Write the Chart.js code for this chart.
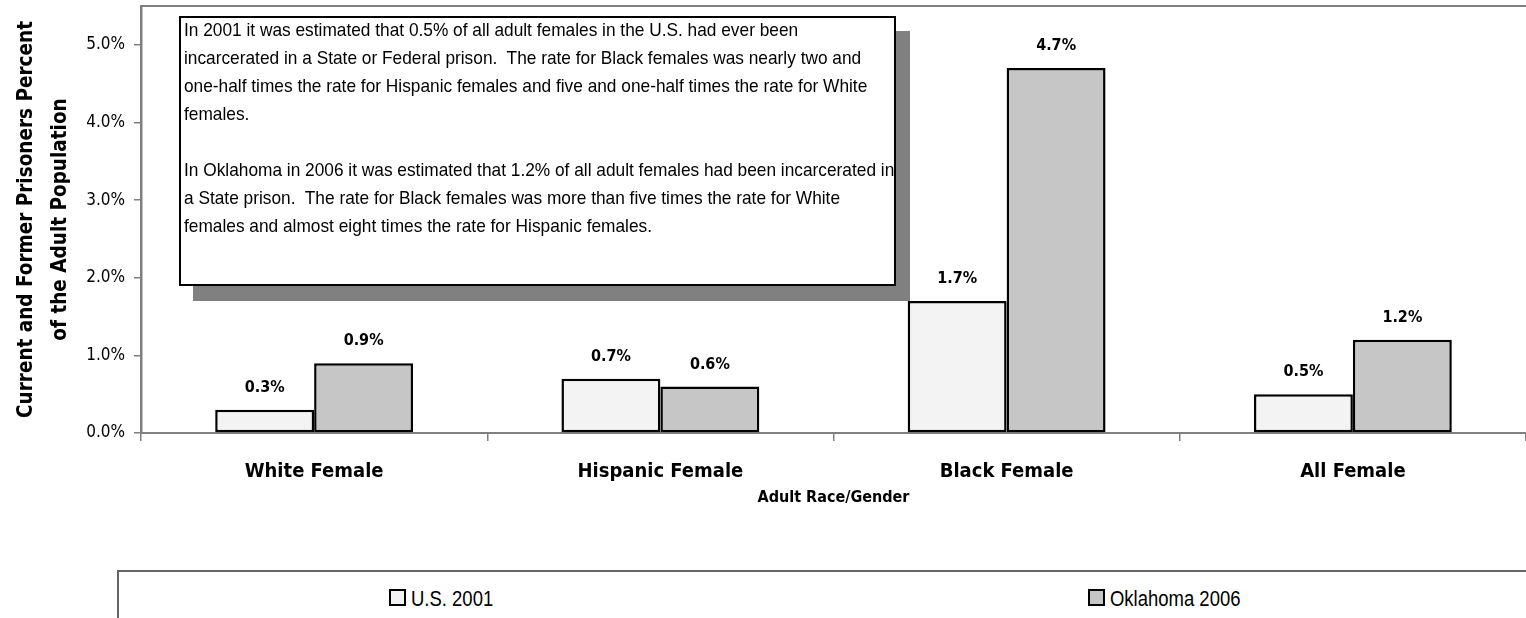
<!DOCTYPE html>
<html><head><meta charset="utf-8">
<script src="https://cdn.jsdelivr.net/npm/chart.js@4.4.0/dist/chart.umd.min.js"></script>
<style>
html,body{margin:0;padding:0;background:#fff;}
#wrap{position:relative;width:1526px;height:618px;overflow:hidden;background:#fff;}
#c{position:absolute;left:0;top:0;}
.note{position:absolute;left:179px;top:16px;width:717px;height:270px;box-sizing:border-box;border:2px solid #000;background:#fff;box-shadow:14px 15px 0 #808080;font-family:'Liberation Sans',Arial,sans-serif;font-size:19px;line-height:28px;color:#000;padding-left:3px;white-space:nowrap;overflow:hidden;}
.note .in{margin-top:-2px;transform:scaleX(0.91);transform-origin:0 0;}
.legend{position:absolute;left:117px;top:570px;width:1440px;height:80px;box-sizing:border-box;border:2px solid #666;border-right:none;border-bottom:none;background:#fff;}
.li{position:absolute;top:16px;font-family:'Liberation Sans',Arial,sans-serif;font-size:22px;line-height:22px;color:#000;white-space:nowrap;}
.li .sw{display:inline-block;width:13px;height:13px;border:2px solid #000;vertical-align:0px;margin-right:5px;}
.li .tx{display:inline-block;transform:scaleX(0.84);transform-origin:0 50%;}
</style>
</head><body>
<div id="wrap">
<canvas id="c" width="1526" height="618"></canvas>
<div class="note"><div class="in">
In 2001 it was estimated that 0.5% of all adult females in the U.S. had ever been<br>
incarcerated in a State or Federal prison.&nbsp; The rate for Black females was nearly two and<br>
one-half times the rate for Hispanic females and five and one-half times the rate for White<br>
females.<br>
<br>
In Oklahoma in 2006 it was estimated that 1.2% of all adult females had been incarcerated in<br>
a State prison.&nbsp; The rate for Black females was more than five times the rate for White<br>
females and almost eight times the rate for Hispanic females.
</div></div>
<div class="legend" id="legend"></div>
</div>
<script>
const categories = ['White Female', 'Hispanic Female', 'Black Female', 'All Female'];
const seriesNames = ['U.S. 2001', 'Oklahoma 2006'];
const us2001 = [0.3, 0.7, 1.7, 0.5];
const oklahoma2006 = [0.9, 0.6, 4.7, 1.2];
const yTitle = ['Current and Former Prisoners Percent', 'of the Adult Population'];
const xTitle = 'Adult Race/Gender';

const NARROW = "'DejaVu Sans Condensed','Liberation Sans Narrow','Arial Narrow',sans-serif";
const colors = ['#f3f3f3', '#c6c6c6'];

const valueLabels = {
  id: 'valueLabels',
  afterDatasetsDraw(chart) {
    const ctx = chart.ctx;
    ctx.save();
    ctx.font = 'bold 16px ' + NARROW;
    ctx.fillStyle = '#000';
    ctx.textAlign = 'center';
    ctx.textBaseline = 'middle';
    chart.data.datasets.forEach((ds, i) => {
      chart.getDatasetMeta(i).data.forEach((bar, j) => {
        ctx.fillText(ds.data[j].toFixed(1) + '%', bar.x, bar.y - 22);
      });
    });
    ctx.restore();
  }
};
const plotBorder = {
  id: 'plotBorder',
  beforeDatasetsDraw(chart) {
    const a = chart.chartArea, ctx = chart.ctx;
    ctx.save();
    ctx.strokeStyle = '#808080';
    ctx.lineWidth = 2;
    ctx.beginPath();
    ctx.moveTo(a.left, a.top);
    ctx.lineTo(a.right + 2, a.top);
    ctx.stroke();
    ctx.restore();
  }
};

const chart = new Chart(document.getElementById('c'), {
  type: 'bar',
  data: {
    labels: categories,
    datasets: [
      { label: seriesNames[0], data: us2001, backgroundColor: colors[0], borderColor: '#000', borderWidth: 2.5, borderSkipped: false },
      { label: seriesNames[1], data: oklahoma2006, backgroundColor: colors[1], borderColor: '#000', borderWidth: 2.5, borderSkipped: false }
    ]
  },
  options: {
    responsive: false,
    animation: false,
    devicePixelRatio: 1,
    layout: { padding: { top: 6, right: 0, bottom: 105, left: 0 } },
    datasets: { bar: { categoryPercentage: 2 / 3.5, barPercentage: 1 } },
    plugins: { legend: { display: false }, tooltip: { enabled: false } },
    scales: {
      x: {
        offset: true,
        grid: { offset: true, drawOnChartArea: false, drawTicks: true, tickLength: 8, color: '#808080', lineWidth: 1.5 },
        border: { color: '#808080', width: 2 },
        ticks: { color: '#000', font: { family: NARROW, size: 20, weight: 'bold' }, padding: 19, maxRotation: 0 },
        title: { display: true, text: xTitle, color: '#000', font: { family: NARROW, size: 16, weight: 'bold' }, padding: { top: 0, bottom: 6 } },
        afterFit(s) { s.height = 80; s.paddingLeft = 0; s.paddingRight = 0; }
      },
      y: {
        min: 0, max: 5.5,
        grid: { drawOnChartArea: false, drawTicks: true, tickLength: 7, color: '#808080', lineWidth: 1.5 },
        border: { color: '#808080', width: 2.5 },
        ticks: { stepSize: 1, includeBounds: false, color: '#000', font: { family: NARROW, size: 17 }, padding: 9,
          callback: v => v.toFixed(1) + '%' },
        title: { display: true, text: yTitle, color: '#000', font: { family: NARROW, size: 20.5, weight: 'bold', lineHeight: 1.66 }, padding: { top: 10, bottom: 0 } },
        afterFit(s) { s.width = 141; s.paddingTop = 0; s.paddingBottom = 0; }
      }
    }
  },
  plugins: [valueLabels, plotBorder]
});

const leg = document.getElementById('legend');
const legX = [270, 969];
seriesNames.forEach((n, i) => {
  const d = document.createElement('div');
  d.className = 'li';
  d.style.left = legX[i] + 'px';
  d.innerHTML = '<span class="sw" style="background:' + colors[i] + '"></span><span class="tx">' + n + '</span>';
  leg.appendChild(d);
});
</script>
</body></html>
